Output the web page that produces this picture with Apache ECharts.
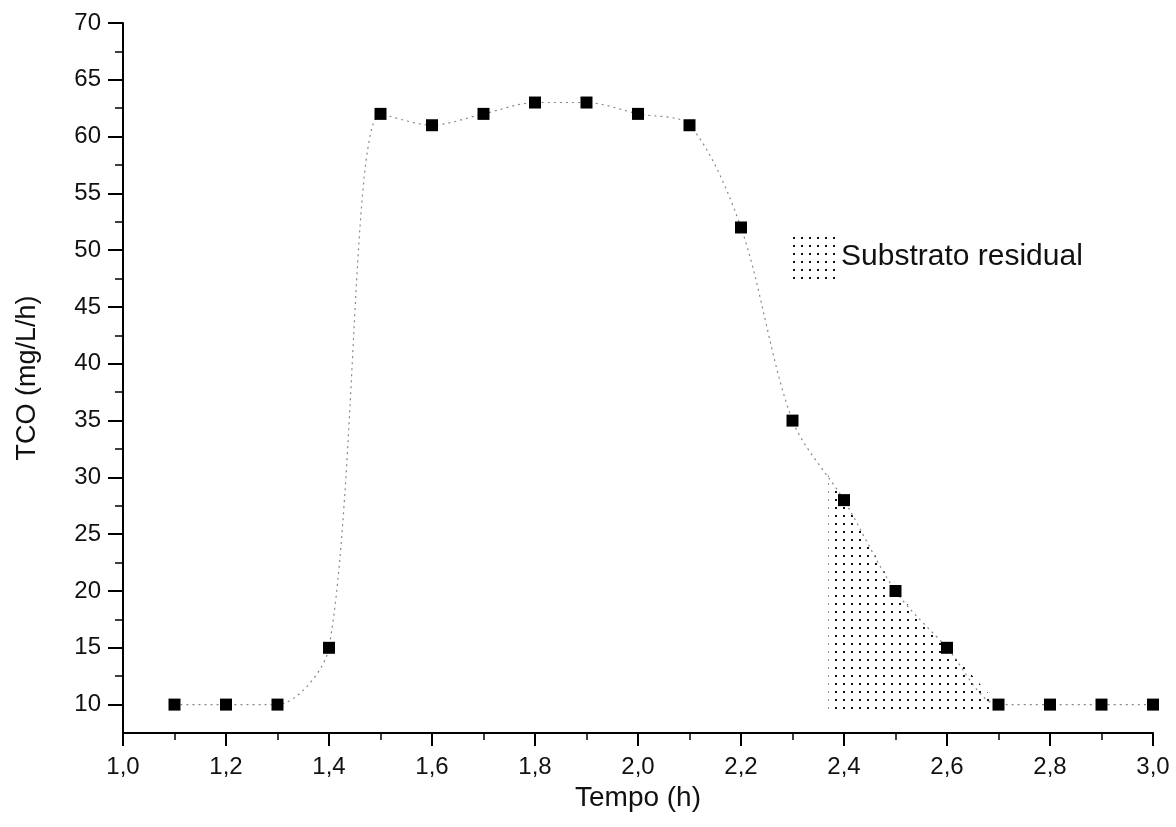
<!DOCTYPE html>
<html>
<head>
<meta charset="utf-8">
<script src="https://cdn.jsdelivr.net/npm/echarts@6/dist/echarts.min.js"></script>
<style>
  html, body { margin: 0; padding: 0; background: #fff; }
  #main { width: 1176px; height: 827px; }
</style>
</head>
<body>
<div id="main"></div>
<script>
// data
var tempo = [1.1, 1.2, 1.3, 1.4, 1.5, 1.6, 1.7, 1.8, 1.9, 2.0, 2.1, 2.2, 2.3, 2.4, 2.5, 2.6, 2.7, 2.8, 2.9, 3.0];
var tco = [10, 10, 10, 15, 62, 61, 62, 63, 63, 62, 61, 52, 35, 28, 20, 15, 10, 10, 10, 10];

// residual substrate region (polygon vertices)
var shadeX = [2.37, 2.4, 2.5, 2.6, 2.7, 2.7, 2.37];
var shadeY = [30.2, 28, 20, 15, 10, 9.5, 9.5];

var yMajor = [10, 15, 20, 25, 30, 35, 40, 45, 50, 55, 60, 65, 70];
var yMinor = [12.5, 17.5, 22.5, 27.5, 32.5, 37.5, 42.5, 47.5, 52.5, 57.5, 62.5, 67.5];

function dotPattern() {
    var c = document.createElement('canvas');
    c.width = 8; c.height = 8;
    var ctx = c.getContext('2d');
    ctx.fillStyle = '#fff';
    ctx.fillRect(0, 0, 8, 8);
    ctx.fillStyle = '#111';
    ctx.fillRect(3, 3, 2, 2);
    return c;
}
var pattern = { image: dotPattern(), repeat: 'repeat' };

var myChart = echarts.init(document.getElementById('main'));
var font = 'Liberation Sans, Arial, sans-serif';
var comma = function (v) { return v.toFixed(1).replace('.', ','); };

var option = {
    animation: false,
    backgroundColor: '#fff',
    grid: { left: 123, right: 23, top: 23, bottom: 94 },
    legend: {
        data: ['Substrato residual'],
        left: 785, top: 229,
        icon: 'rect',
        itemWidth: 46, itemHeight: 46,
        itemGap: 10,
        textStyle: { fontFamily: font, fontSize: 30, color: '#111' }
    },
    xAxis: {
        type: 'value',
        min: 1.0, max: 3.0, interval: 0.2,
        name: 'Tempo (h)',
        nameLocation: 'middle',
        nameGap: 48,
        nameTextStyle: { fontFamily: font, fontSize: 28, color: '#111' },
        axisLine: { lineStyle: { color: '#000', width: 2 } },
        axisTick: { show: true, inside: false, length: 13, lineStyle: { color: '#000', width: 2 } },
        minorTick: { show: true, splitNumber: 2, length: 7, lineStyle: { color: '#000', width: 1.5 } },
        axisLabel: { margin: 22, fontFamily: font, fontSize: 24, color: '#111', formatter: comma },
        splitLine: { show: false }
    },
    yAxis: [{
        type: 'value',
        min: 7.5, max: 70,
        name: 'TCO (mg/L/h)',
        nameLocation: 'middle',
        nameGap: 82,
        nameTextStyle: { fontFamily: font, fontSize: 27, color: '#111' },
        axisLine: { show: true, lineStyle: { color: '#000', width: 2 } },
        axisTick: { show: true, length: 15, customValues: yMajor, lineStyle: { color: '#000', width: 2 } },
        axisLabel: { margin: 22, fontFamily: font, fontSize: 24, color: '#111', customValues: yMajor },
        splitLine: { show: false }
    }, {
        type: 'value',
        position: 'left',
        min: 7.5, max: 70,
        axisLine: { show: false },
        axisTick: { show: true, length: 8, customValues: yMinor, lineStyle: { color: '#000', width: 1.5 } },
        axisLabel: { show: false },
        splitLine: { show: false }
    }],
    series: [{
        name: 'Substrato residual',
        type: 'custom',
        itemStyle: { color: pattern },
        data: [[shadeX[0], shadeY[0]]],
        renderItem: function (params, api) {
            var pts = [];
            for (var i = 0; i < shadeX.length; i++) {
                pts.push(api.coord([shadeX[i], shadeY[i]]));
            }
            return {
                type: 'polygon',
                shape: { points: pts },
                style: { fill: pattern, stroke: null }
            };
        },
        z: 1
    }, {
        name: 'TCO',
        type: 'line',
        data: tempo.map(function (t, i) { return [t, tco[i]]; }),
        smooth: 0.3,
        symbol: 'rect',
        symbolSize: 12,
        itemStyle: { color: '#000' },
        lineStyle: { color: '#888', width: 1.2, type: [2, 4] },
        z: 3
    }]
};
myChart.setOption(option);
</script>
</body>
</html>
